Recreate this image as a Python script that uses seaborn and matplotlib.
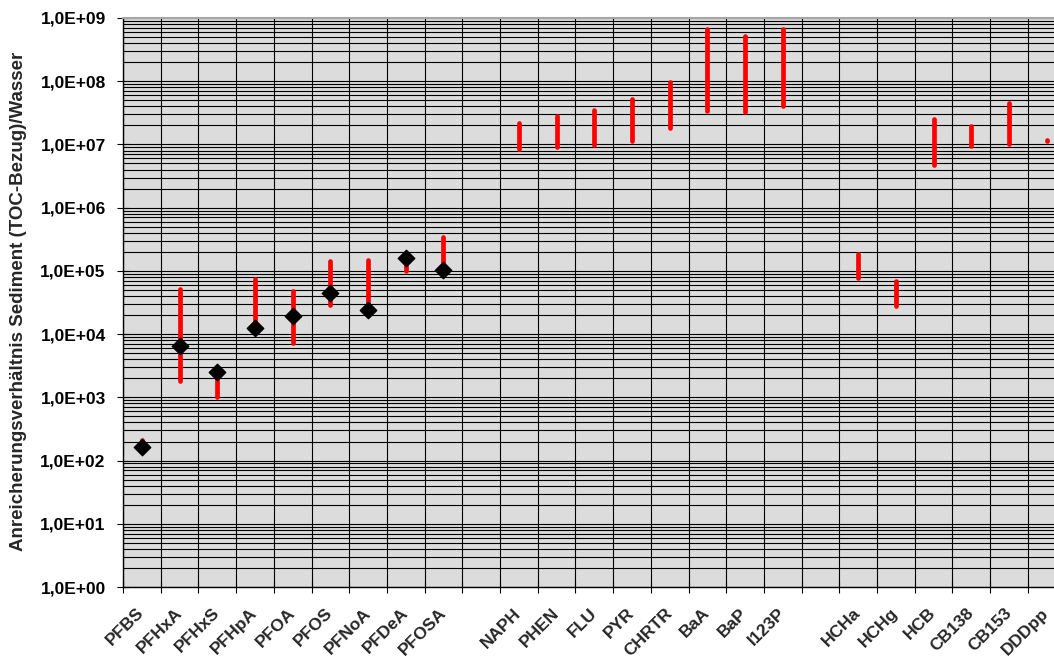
import numpy as np
import pandas as pd
import matplotlib.pyplot as plt
import matplotlib.transforms as mtransforms
from matplotlib.ticker import LogLocator, FixedLocator, FuncFormatter, NullFormatter
import seaborn as sns

# Kategorien auf der x-Achse (leere Einträge = Lücken zwischen den Stoffgruppen)
kategorien = ["PFBS", "PFHxA", "PFHxS", "PFHpA", "PFOA", "PFOS", "PFNoA", "PFDeA", "PFOSA", "",
              "NAPH", "PHEN", "FLU", "PYR", "CHRTR", "BaA", "BaP", "I123P", "",
              "HCHa", "HCHg", "HCB", "CB138", "CB153", "DDDpp"]

# Spannweite (rote Balken): Minimum und Maximum
stoffe_bereich = ["PFBS", "PFHxA", "PFHxS", "PFHpA", "PFOA", "PFOS", "PFNoA", "PFDeA", "PFOSA",
                  "NAPH", "PHEN", "FLU", "PYR", "CHRTR", "BaA", "BaP", "I123P",
                  "HCHa", "HCHg", "HCB", "CB138", "CB153", "DDDpp"]
bereich_min = [150, 1800, 1000, 11000, 7300, 29000, 22000, 98000, 95000,
               8.6e6, 9.1e6, 9.7e6, 1.15e7, 1.8e7, 3.4e7, 3.3e7, 4.1e7,
               7.7e4, 2.8e4, 4.8e6, 9.3e6, 1.02e7, 1.12e7]
bereich_max = [210, 51000, 2800, 74000, 48000, 145000, 150000, 175000, 345000,
               2.2e7, 2.85e7, 3.5e7, 5.3e7, 9.8e7, 6.7e8, 5.2e8, 6.8e8,
               1.85e5, 6.8e4, 2.5e7, 1.98e7, 4.5e7, 1.16e7]

# Schwarze Rauten (nur PFAS)
stoffe_raute = ["PFBS", "PFHxA", "PFHxS", "PFHpA", "PFOA", "PFOS", "PFNoA", "PFDeA", "PFOSA"]
raute_werte = [162, 6400, 2550, 12600, 19400, 44600, 24500, 162000, 103000]

df_bereich = pd.DataFrame({
    "stoff": stoffe_bereich * 2,
    "wert": bereich_min + bereich_max,
})
df_bereich["pos"] = df_bereich["stoff"].map(kategorien.index)
df_raute = pd.DataFrame({"stoff": stoffe_raute, "wert": raute_werte})
df_raute["pos"] = df_raute["stoff"].map(kategorien.index)

sns.set_theme(style="ticks")
plt.rcParams['font.family'] = ['Liberation Sans', 'DejaVu Sans']

fig = plt.figure(figsize=(10.54, 6.61), dpi=100)
ax = fig.add_axes([123 / 1054, 1 - 587 / 661, 931 / 1054, 569 / 661])
ax.set_facecolor('#DCDCDC')

sns.lineplot(data=df_bereich, x="pos", y="wert", units="stoff", estimator=None, sort=False,
             color="#FF0000", linewidth=3.4, solid_capstyle="round", ax=ax, zorder=3)
sns.scatterplot(data=df_raute, x="pos", y="wert", marker="D", s=70, color="black",
                edgecolor="black", linewidth=1, ax=ax, zorder=4)

ax.set_yscale('log')
ax.set_ylim(1, 1e9)
ax.set_xlim(-0.5, -0.5 + 931 / 37.7)

ax.yaxis.set_major_locator(LogLocator(base=10, numticks=20))
ax.yaxis.set_minor_locator(LogLocator(base=10, subs=np.arange(2, 10), numticks=20))
ax.yaxis.set_major_formatter(FuncFormatter(lambda v, p: "1,0E+%02d" % int(round(np.log10(v)))))
ax.yaxis.set_minor_formatter(NullFormatter())

ax.xaxis.set_major_locator(FixedLocator(range(len(kategorien))))
ax.xaxis.set_minor_locator(FixedLocator(np.arange(-0.5, len(kategorien) + 0.5, 1)))
ax.set_xticklabels(kategorien, rotation=45, ha='right', va='center', rotation_mode='anchor',
                   fontsize=12.5, fontweight='bold')
# Beschriftungen etwas nach links verschieben
versatz = mtransforms.ScaledTranslation(-4 / 100, 0, fig.dpi_scale_trans)
for lbl in ax.get_xticklabels():
    lbl.set_transform(lbl.get_transform() + versatz)

ax.grid(which='both', axis='y', color='black', linewidth=0.8)
ax.grid(which='minor', axis='x', color='black', linewidth=0.8)
ax.grid(which='major', axis='x', visible=False)

ax.tick_params(axis='y', which='major', direction='inout', length=9, width=0.8, pad=8,
               labelsize=12.5, colors='black')
ax.tick_params(axis='y', which='minor', length=0)
ax.tick_params(axis='x', which='major', length=0, pad=17)
ax.tick_params(axis='x', which='minor', direction='inout', length=8, width=0.8, color='black')
for lbl in ax.get_yticklabels():
    lbl.set_fontweight('bold')

for s in ['left', 'bottom']:
    ax.spines[s].set_color('black')
    ax.spines[s].set_linewidth(1)
ax.spines['right'].set_visible(False)
ax.spines['top'].set_color('#A6A6A6')
ax.spines['top'].set_linewidth(1.5)

ax.set_xlabel('')
ax.set_ylabel('Anreicherungsverhältnis Sediment (TOC-Bezug)/Wasser', fontsize=13.5, fontweight='bold')
ax.yaxis.set_label_coords((27 - 123) / 931, (587 - 301) / 569)

fig.savefig('out.png', dpi=100)
